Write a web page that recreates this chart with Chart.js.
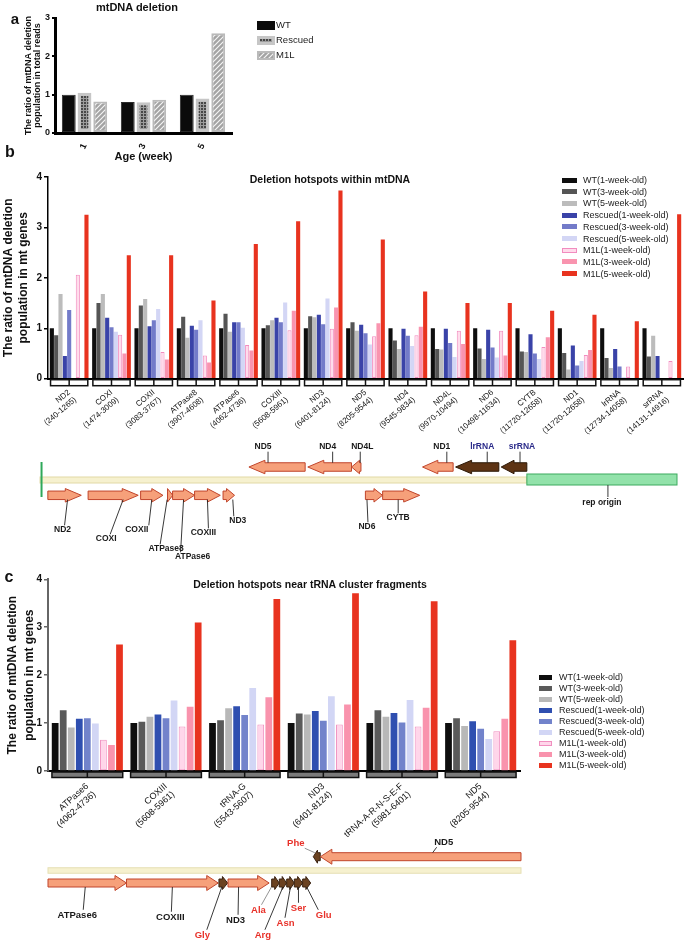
<!DOCTYPE html>
<html>
<head>
<meta charset="utf-8">
<title>mtDNA deletion hotspots</title>
<script src="https://cdn.jsdelivr.net/npm/chart.js@4.4.1/dist/chart.umd.min.js"></script>
<style>
html,body{margin:0;padding:0;background:#fff;}
body{position:relative;width:685px;height:940px;overflow:hidden;font-family:"Liberation Sans",Arial,Helvetica,sans-serif;color:#111;}
canvas{position:absolute;left:0;}
.lbl{position:absolute;white-space:nowrap;font-weight:bold;transform:translate(-50%,-50%);z-index:5;line-height:1;}
.leg{position:absolute;white-space:nowrap;font-size:9px;color:#222;z-index:5;line-height:1;}
.leg i{position:absolute;display:block;box-sizing:border-box;}
.leg span{position:absolute;transform:translateY(-50%);}
</style>
</head>
<body>
<canvas id="chartA" width="250" height="170" style="top:0px;width:250px;height:170px"></canvas>
<canvas id="chartB" width="685" height="280" style="top:169px;width:685px;height:280px"></canvas>
<canvas id="mapB" width="685" height="125" style="top:440px;width:685px;height:125px"></canvas>
<canvas id="chartC" width="685" height="275" style="top:570px;width:685px;height:275px"></canvas>
<canvas id="mapC" width="685" height="110" style="top:830px;width:685px;height:110px"></canvas>

<div class="lbl" style="left:15px;top:18px;font-size:15px">a</div>
<div class="lbl" style="left:137px;top:7px;font-size:11px">mtDNA deletion</div>
<div class="lbl" style="left:10px;top:152px;font-size:16px">b</div>
<div class="lbl" style="left:330px;top:179px;font-size:10.5px">Deletion hotspots within mtDNA</div>
<div class="lbl" style="left:9px;top:577px;font-size:16px">c</div>
<div class="lbl" style="left:310px;top:584px;font-size:10.5px">Deletion hotspots near tRNA cluster fragments</div>

<div id="legA"></div>
<div id="legB"></div>
<div id="legC"></div>

<script>
// ---------------- DATA ----------------
// Panel a
const ageWeeks = ['1', '3', '5'];
const aSeriesNames = ['WT', 'Rescued', 'M1L'];
const aWT = [1.00, 0.81, 1.00];
const aRescued = [1.05, 0.80, 0.90];
const aM1L = [0.82, 0.87, 2.60];
const aTicks = [0, 1, 2, 3];

// Series for panels b and c
const weekSeries = ['WT(1-week-old)', 'WT(3-week-old)', 'WT(5-week-old)',
  'Rescued(1-week-old)', 'Rescued(3-week-old)', 'Rescued(5-week-old)',
  'M1L(1-week-old)', 'M1L(3-week-old)', 'M1L(5-week-old)'];

// Panel b
const bGenes = ['ND2', 'COXI', 'COXII', 'ATPase8', 'ATPase6', 'COXIII', 'ND3', 'ND5', 'ND4', 'ND4L', 'ND6', 'CYTB', 'ND1', 'lrRNA', 'srRNA'];
const bRanges = ['(240-1265)', '(1474-3009)', '(3083-3767)', '(3907-4608)', '(4062-4736)', '(5608-5961)', '(6401-8124)', '(8205-9544)', '(9545-9834)', '(9970-10494)', '(10498-11634)', '(11720-12658)', '(11720-12658)', '(12734-14058)', '(14131-14916)'];
const bWT1 = [1.00, 1.00, 1.00, 1.00, 1.00, 1.00, 1.00, 1.00, 1.00, 1.00, 1.00, 1.00, 1.00, 1.00, 1.00];
const bWT3 = [0.86, 1.50, 1.45, 1.23, 1.29, 1.06, 1.24, 1.12, 0.76, 0.59, 0.60, 0.54, 0.51, 0.41, 0.44];
const bWT5 = [1.68, 1.68, 1.58, 0.81, 0.93, 1.16, 1.22, 0.95, 0.59, 0.58, 0.39, 0.53, 0.18, 0.21, 0.85];
const bRes1 = [0.45, 1.21, 1.04, 1.05, 1.12, 1.21, 1.27, 1.07, 0.99, 0.99, 0.97, 0.88, 0.66, 0.59, 0.45];
const bRes3 = [1.36, 1.02, 1.16, 0.97, 1.12, 1.12, 1.08, 0.90, 0.85, 0.71, 0.62, 0.50, 0.26, 0.24, 0.00];
const bRes5 = [0.00, 0.93, 1.38, 1.16, 1.01, 1.51, 1.59, 0.68, 0.65, 0.43, 0.42, 0.39, 0.35, 0.03, 0.00];
const bM1L1 = [2.06, 0.87, 0.53, 0.46, 0.67, 0.96, 0.99, 0.84, 0.86, 0.95, 0.95, 0.63, 0.47, 0.24, 0.35];
const bM1L3 = [0.00, 0.50, 0.38, 0.32, 0.56, 1.35, 1.41, 1.10, 1.03, 0.69, 0.46, 0.82, 0.57, 0.00, 0.00];
const bM1L5 = [3.25, 2.45, 2.45, 1.55, 2.67, 3.12, 3.73, 2.76, 1.73, 1.50, 1.50, 1.35, 1.27, 1.14, 3.26];
const bTicks = [0, 1, 2, 3, 4];

// Panel c
const cFragments = ['ATPase6', 'COXIII', 'tRNA-G', 'ND3', 'tRNA-A-R-N-S-E-F', 'ND5'];
const cRanges = ['(4062-4736)', '(5608-5961)', '(5543-5607)', '(6401-8124)', '(5981-6401)', '(8205-9544)'];
const cWT1 = [1.00, 1.00, 1.00, 1.00, 1.00, 1.00];
const cWT3 = [1.27, 1.03, 1.06, 1.20, 1.27, 1.10];
const cWT5 = [0.91, 1.13, 1.31, 1.18, 1.13, 0.94];
const cRes1 = [1.09, 1.18, 1.35, 1.25, 1.21, 1.04];
const cRes3 = [1.10, 1.10, 1.17, 1.05, 1.01, 0.88];
const cRes5 = [0.99, 1.47, 1.73, 1.56, 1.48, 0.67];
const cM1L1 = [0.65, 0.93, 0.97, 0.97, 0.93, 0.83];
const cM1L3 = [0.54, 1.34, 1.54, 1.39, 1.32, 1.09];
const cM1L5 = [2.64, 3.10, 3.59, 3.71, 3.54, 2.73];
const cTicks = [0, 1, 2, 3, 4];

// Gene map (panel b), mtDNA coordinates (bp)
const mapGenes  = ['ND2', 'COXI', 'COXII', 'ATPase8', 'ATPase6', 'COXIII', 'ND3', 'ND5', 'ND4', 'ND4L', 'ND6', 'CYTB', 'ND1', 'lrRNA', 'srRNA'];
const mapStart  = [240, 1474, 3083, 3907, 4062, 4736, 5608, 6401, 8205, 9545, 9970, 10498, 11720, 12734, 14131];
const mapEnd    = [1265, 3009, 3767, 4068, 4736, 5524, 5961, 8124, 9544, 9834, 10494, 11634, 12658, 14058, 14916];
const mapStrand = [1, 1, 1, 1, 1, 1, 1, -1, -1, -1, 1, 1, -1, -1, -1];
const mapKind   = ['p', 'p', 'p', 'p', 'p', 'p', 'p', 'p', 'p', 'p', 'p', 'p', 'p', 'r', 'r'];
const mapGenomeLength = 19517;
const mapCodingRegion = [1, 14916];
const mapRepOrigin = [14917, 19517];

// Gene map (panel c), fragment around the tRNA cluster (bp)
const frGenes  = ['ATPase6', 'COXIII', 'Gly', 'ND3', 'Ala', 'Arg', 'Asn', 'Ser', 'Glu', 'Phe', 'ND5'];
const frStart  = [4062, 4736, 5530, 5608, 5983, 6048, 6112, 6177, 6249, 6340, 6401];
const frEnd    = [4736, 5524, 5605, 5961, 6048, 6111, 6177, 6249, 6318, 6400, 8124];
const frStrand = [1, 1, 1, 1, 1, 1, 1, 1, 1, -1, -1];
const frKind   = ['p', 'p', 't', 'p', 't', 't', 't', 't', 't', 't', 'p'];
const frRange  = [4062, 8124];

// ---------------- STYLES / LAYOUT ----------------
Chart.defaults.font.family = '"Liberation Sans", Arial, Helvetica, sans-serif';
Chart.defaults.color = '#111';

function tile(w, h, draw) {
  const c = document.createElement('canvas'); c.width = w; c.height = h;
  const g = c.getContext('2d'); draw(g, w, h); return c;
}
const dotTile = tile(3, 3, g => { g.fillStyle = '#9c9c9c'; g.fillRect(0, 0, 3, 3); g.fillStyle = '#474747'; g.fillRect(0, 0, 2, 2); });
const hatchTile = tile(5, 5, g => {
  g.fillStyle = '#a3a3a3'; g.fillRect(0, 0, 5, 5);
  g.strokeStyle = '#f4f4f4'; g.lineWidth = 1.2; g.beginPath();
  g.moveTo(0, 5); g.lineTo(5, 0); g.moveTo(-1, 1); g.lineTo(1, -1); g.moveTo(4, 6); g.lineTo(6, 4); g.stroke();
});
const ctxTmp = document.createElement('canvas').getContext('2d');
const dotPattern = ctxTmp.createPattern(dotTile, 'repeat');
const hatchPattern = ctxTmp.createPattern(hatchTile, 'repeat');

const aStyles = [
  {bg: '#0b0b0b', bd: '#2a2a2a', bw: 1, css: 'background:#0b0b0b'},
  {bg: dotPattern, bd: '#c6c6c6', bw: 3, css: 'background:url(' + dotTile.toDataURL() + ');border:3px solid #c6c6c6'},
  {bg: hatchPattern, bd: '#bababa', bw: 2, css: 'background:url(' + hatchTile.toDataURL() + ');border:2px solid #bababa'}
];
const bStyles = [
  {bg: '#0e0e0e', bd: '#0e0e0e', bw: 0},
  {bg: '#555555', bd: '#555555', bw: 0},
  {bg: '#bcbcbc', bd: '#bcbcbc', bw: 0},
  {bg: '#3a43a8', bd: '#3a43a8', bw: 0},
  {bg: '#737bc9', bd: '#737bc9', bw: 0},
  {bg: '#d3d6f5', bd: '#d3d6f5', bw: 0},
  {bg: '#ffdbeb', bd: '#f28cbf', bw: 1},
  {bg: '#f994af', bd: '#f994af', bw: 0},
  {bg: '#e8331f', bd: '#e8331f', bw: 0}
];
const cStyles = [
  {bg: '#0e0e0e', bd: '#0e0e0e', bw: 0},
  {bg: '#5a5a5a', bd: '#5a5a5a', bw: 0},
  {bg: '#b8b8b8', bd: '#b8b8b8', bw: 0},
  {bg: '#2f4fb0', bd: '#2f4fb0', bw: 0},
  {bg: '#7283cb', bd: '#7283cb', bw: 0},
  {bg: '#d2d6f5', bd: '#d2d6f5', bw: 0},
  {bg: '#ffd6ea', bd: '#f08fbf', bw: 1},
  {bg: '#f993ad', bd: '#f993ad', bw: 0},
  {bg: '#e8331f', bd: '#e8331f', bw: 0}
];

function legend(id, names, styles, L) {
  const host = document.getElementById(id);
  names.forEach((n, i) => {
    const y = L.y0 + i * L.dy;
    const st = styles[i];
    const css = st.css || ('background:' + st.bg + (st.bw ? ';border:1px solid ' + st.bd : ''));
    const row = document.createElement('div');
    row.className = 'leg';
    row.style.left = L.x + 'px'; row.style.top = y + 'px'; row.style.fontSize = L.fs + 'px';
    row.innerHTML = '<i style="left:0;top:' + (-L.bh / 2) + 'px;width:' + L.bw + 'px;height:' + L.bh + 'px;' + css + '"></i>' +
      '<span style="left:' + L.tx + 'px;top:0">' + n + '</span>';
    host.appendChild(row);
  });
}
legend('legA', aSeriesNames, aStyles, {x: 257, y0: 25, dy: 15, bw: 18, bh: 9, tx: 19, fs: 9.5});
legend('legB', weekSeries, bStyles, {x: 562, y0: 180, dy: 11.7, bw: 15, bh: 5, tx: 21, fs: 9});
legend('legC', weekSeries, cStyles, {x: 539, y0: 677, dy: 11, bw: 13, bh: 5, tx: 20, fs: 9});

// Group bracket boxes under the categories
const groupBox = {
  id: 'groupBox',
  afterDraw(chart, args, o) {
    if (!o || !o.show) return;
    const xs = chart.scales.x, ys = chart.scales.y, ctx = chart.ctx;
    const n = chart.data.labels.length;
    const w = (xs.right - xs.left) / n * o.pct;
    const y0 = ys.getPixelForValue(0) + o.gap;
    ctx.save();
    ctx.lineWidth = o.lw; ctx.strokeStyle = o.stroke; ctx.fillStyle = o.fill;
    for (let i = 0; i < n; i++) {
      const cx = xs.getPixelForValue(i);
      ctx.fillRect(cx - w / 2, y0, w, o.h);
      ctx.strokeRect(cx - w / 2, y0, w, o.h);
      ctx.beginPath(); ctx.moveTo(cx, y0); ctx.lineTo(cx, y0 + o.h); ctx.stroke();
    }
    ctx.restore();
  }
};

function ds(names, arrays, styles) {
  return arrays.map((d, i) => ({
    label: names[i], data: d,
    backgroundColor: styles[i].bg, borderColor: styles[i].bd, borderWidth: styles[i].bw,
    borderSkipped: false
  }));
}

// ---------------- PANEL A ----------------
new Chart(document.getElementById('chartA'), {
  type: 'bar',
  data: {labels: ageWeeks, datasets: ds(aSeriesNames, [aWT, aRescued, aM1L], aStyles)},
  options: {
    responsive: false, animation: false, devicePixelRatio: 1,
    layout: {padding: {left: 0, right: 18, top: 18, bottom: 0}},
    datasets: {bar: {categoryPercentage: 0.8, barPercentage: 0.88}},
    plugins: {legend: {display: false}, tooltip: {enabled: false}},
    scales: {
      x: {
        grid: {display: false}, border: {display: true, color: '#000', width: 3},
        ticks: {font: {size: 9, weight: 'bold'}, color: '#111', minRotation: 65, maxRotation: 65, padding: 1},
        title: {display: true, text: 'Age (week)', font: {size: 11, weight: 'bold'}, color: '#111', padding: {top: 0, bottom: 6}},
        afterFit(s) { s.height = 37; }
      },
      y: {
        min: 0, max: 3,
        afterBuildTicks(s) { s.ticks = aTicks.map(v => ({value: v})); },
        ticks: {font: {size: 9, weight: 'bold'}, color: '#111', padding: 2},
        grid: {display: true, drawOnChartArea: false, drawTicks: true, tickLength: 3, color: '#000', lineWidth: 2},
        border: {display: true, color: '#000', width: 3},
        title: {display: true, text: ['The ratio of mtDNA deletion', 'population in total reads'], font: {size: 9, weight: 'bold', lineHeight: 1.0}, color: '#111', padding: {top: 24.5, bottom: 0}},
        afterFit(s) { s.width = 55; }
      }
    }
  }
});

// ---------------- PANEL B ----------------
new Chart(document.getElementById('chartB'), {
  type: 'bar',
  data: {
    labels: bGenes.map((g, i) => [g, bRanges[i]]),
    datasets: ds(weekSeries, [bWT1, bWT3, bWT5, bRes1, bRes3, bRes5, bM1L1, bM1L3, bM1L5], bStyles)
  },
  options: {
    responsive: false, animation: false, devicePixelRatio: 1,
    layout: {padding: {left: 0, right: 2, top: 6, bottom: 0}},
    datasets: {bar: {categoryPercentage: 0.92, barPercentage: 0.95}},
    plugins: {legend: {display: false}, tooltip: {enabled: false},
      groupBox: {show: true, pct: 0.88, gap: 1, h: 6, lw: 1.5, stroke: '#111', fill: '#fff'}},
    scales: {
      x: {
        grid: {display: false}, border: {display: true, color: '#000', width: 2},
        ticks: {font: {size: 8}, color: '#111', minRotation: 40, maxRotation: 40, autoSkip: false, padding: 1},
        afterFit(s) { s.height = 70.3; }
      },
      y: {
        min: 0, max: 4,
        afterBuildTicks(s) { s.ticks = bTicks.map(v => ({value: v})); },
        ticks: {font: {size: 10, weight: 'bold'}, color: '#111', padding: 2},
        grid: {display: true, drawOnChartArea: false, drawTicks: true, tickLength: 4, color: '#000', lineWidth: 1.5},
        border: {display: true, color: '#000', width: 1.5},
        title: {display: true, text: ['The ratio of mtDNA deletion', 'population in mt genes'], font: {size: 12, weight: 'bold', lineHeight: 1.25}, color: '#111', padding: {top: 1.5, bottom: 0}},
        afterFit(s) { s.width = 48; }
      }
    }
  },
  plugins: [groupBox]
});

// ---------------- PANEL C ----------------
new Chart(document.getElementById('chartC'), {
  type: 'bar',
  data: {
    labels: cFragments.map((g, i) => [g, cRanges[i]]),
    datasets: ds(weekSeries, [cWT1, cWT3, cWT5, cRes1, cRes3, cRes5, cM1L1, cM1L3, cM1L5], cStyles)
  },
  options: {
    responsive: false, animation: false, devicePixelRatio: 1,
    layout: {padding: {left: 0, right: 165, top: 9.3, bottom: 0}},
    datasets: {bar: {categoryPercentage: 0.92, barPercentage: 0.84}},
    plugins: {legend: {display: false}, tooltip: {enabled: false},
      groupBox: {show: true, pct: 0.9, gap: 1, h: 5.5, lw: 1.5, stroke: '#111', fill: '#7a7a7a'}},
    scales: {
      x: {
        grid: {display: false}, border: {display: true, color: '#000', width: 2},
        ticks: {font: {size: 9}, color: '#111', minRotation: 42, maxRotation: 42, autoSkip: false, padding: 2},
        afterFit(s) { s.height = 74; }
      },
      y: {
        min: 0, max: 4,
        afterBuildTicks(s) { s.ticks = cTicks.map(v => ({value: v})); },
        ticks: {font: {size: 10, weight: 'bold'}, color: '#111', padding: 2},
        grid: {display: true, drawOnChartArea: false, drawTicks: true, tickLength: 4, color: '#666', lineWidth: 1.5},
        border: {display: true, color: '#666', width: 2},
        title: {display: true, text: ['The ratio of mtDNA deletion', 'population in mt genes'], font: {size: 12, weight: 'bold', lineHeight: 1.4}, color: '#111', padding: {top: 4.6, bottom: 0}},
        afterFit(s) { s.width = 48; }
      }
    }
  },
  plugins: [groupBox]
});

// ---------------- GENE MAPS ----------------
function drawArrow(ctx, xa, xb, cy, dir, bodyH, headH, headL, fill, stroke) {
  const hl = Math.min(xb - xa, headL);
  ctx.beginPath();
  if (dir > 0) {
    const hx = xb - hl;
    ctx.moveTo(xa, cy - bodyH / 2); ctx.lineTo(hx, cy - bodyH / 2); ctx.lineTo(hx, cy - headH / 2);
    ctx.lineTo(xb, cy); ctx.lineTo(hx, cy + headH / 2); ctx.lineTo(hx, cy + bodyH / 2); ctx.lineTo(xa, cy + bodyH / 2);
  } else {
    const hx = xa + hl;
    ctx.moveTo(xb, cy - bodyH / 2); ctx.lineTo(hx, cy - bodyH / 2); ctx.lineTo(hx, cy - headH / 2);
    ctx.lineTo(xa, cy); ctx.lineTo(hx, cy + headH / 2); ctx.lineTo(hx, cy + bodyH / 2); ctx.lineTo(xb, cy + bodyH / 2);
  }
  ctx.closePath();
  ctx.fillStyle = fill; ctx.fill();
  ctx.lineWidth = 1; ctx.strokeStyle = stroke; ctx.stroke();
}

const geneFill = {p: '#f6a07a', r: '#5e3414', t: '#6b4220'};
const geneStroke = {p: '#c0452c', r: '#2c1806', t: '#3a2210'};

// label placement (layout only): ax = leader start offset from gene middle, ex = leader end offset, lx = label offset, ly = page y
const mapBLabels = {
  ND2: {ax: 3, ex: 0, lx: -2, ly: 530}, COXI: {ax: 10, ex: -3, lx: -7, ly: 539}, COXII: {ax: 0, ex: -3, lx: -15, ly: 530},
  ATPase8: {ax: -3, ex: -10, lx: -4, ly: 549}, ATPase6: {ax: 0, ex: -3, lx: 9, ly: 557}, COXIII: {ax: 0, ex: 1, lx: -4, ly: 533},
  ND3: {ax: 4, ex: 5, lx: 9, ly: 521}, ND5: {ax: -9, ex: -9, lx: -14, ly: 447}, ND4: {ax: 3, ex: 3, lx: -2, ly: 447},
  ND4L: {ax: 4, ex: 4, lx: 6, ly: 447}, ND6: {ax: -7, ex: -6, lx: -7, ly: 527}, CYTB: {ax: -3, ex: -3, lx: -3, ly: 518},
  ND1: {ax: 9, ex: 9, lx: 4, ly: 447}, lrRNA: {ax: 10, ex: 10, lx: 5, ly: 447}, srRNA: {ax: 6, ex: 6, lx: 8, ly: 447}
};
const mapCLabels = {
  ATPase6: {ax: -2, ex: -4, lx: -10, ly: 915}, COXIII: {ax: 0, ex: -1, lx: -2, ly: 917}, ND3: {ax: -10, ex: -10.5, lx: -13, ly: 920},
  Gly: {ax: -1.5, ex: -16.5, lx: -21, ly: 935}, Ala: {ax: -4, ex: -14, lx: -17, ly: 910, gray: true}, Arg: {ax: 0, ex: -18, lx: -20, ly: 935},
  Asn: {ax: 0, ex: -5.5, lx: -5, ly: 923}, Ser: {ax: 0, ex: 0, lx: 0, ly: 908}, Glu: {ax: 0, ex: 11.6, lx: 17, ly: 915},
  Phe: {ax: -2, ex: -12, lx: -21, ly: 843, gray: true}, ND5: {ax: 12, ex: 16, lx: 23, ly: 842}
};

function mapChart(id, top, height, xmin, xmax, padL, padR, plugin) {
  return new Chart(document.getElementById(id), {
    type: 'scatter',
    data: {datasets: [{data: []}]},
    options: {
      responsive: false, animation: false, devicePixelRatio: 1,
      layout: {padding: {left: padL, right: padR, top: 0, bottom: 0}},
      plugins: {legend: {display: false}, tooltip: {enabled: false}},
      scales: {
        x: {type: 'linear', min: xmin, max: xmax, display: false},
        y: {type: 'linear', min: top, max: top + height, reverse: true, display: false}
      }
    },
    plugins: [plugin]
  });
}

function drawGenes(ctx, X, Y, names, starts, ends, strands, kinds, labels, S) {
  names.forEach((n, i) => {
    const xa = X(starts[i]), xb = X(ends[i]);
    const len = xb - xa;
    const cy = strands[i] > 0 ? Y(S.botY) : Y(S.topY);
    let hl;
    if (kinds[i] === 't') hl = len * 0.6;
    else hl = Math.min(S.headMax, Math.max(len * 0.5, Math.min(len, 8)));
    const headH = kinds[i] === 't' ? S.tHeadH : S.headH;
    drawArrow(ctx, xa, xb, cy, strands[i], S.bodyH, headH, hl, geneFill[kinds[i]], geneStroke[kinds[i]]);
  });
  names.forEach((n, i) => {
    const L = labels[n]; if (!L) return;
    const mid = (X(starts[i]) + X(ends[i])) / 2;
    const bottom = strands[i] > 0;
    const cy = bottom ? Y(S.botY) : Y(S.topY);
    const y1 = bottom ? cy + S.bodyH / 2 : cy - S.bodyH / 2;
    const ly = Y(L.ly);
    const y2 = bottom ? ly - S.fs * 0.55 : ly + S.fs * 0.55;
    ctx.beginPath(); ctx.moveTo(mid + L.ax, y1); ctx.lineTo(mid + L.ex, y2);
    ctx.lineWidth = 0.9; ctx.strokeStyle = L.gray ? '#888' : '#222'; ctx.stroke();
    ctx.font = 'bold ' + S.fs + 'px "Liberation Sans", Arial, sans-serif';
    ctx.textAlign = 'center'; ctx.textBaseline = 'middle';
    ctx.fillStyle = S.labelColor(n, kinds[i]);
    ctx.fillText(n, mid + L.lx, ly);
  });
}

const mapBStyle = {lineY: 480, lineH: 6, topY: 467, botY: 495.3, bodyH: 8.5, headH: 13.5, tHeadH: 13.5, headMax: 16, fs: 8.5,
  labelColor: (n, k) => k === 'r' ? '#2b2b8a' : '#1a1a1a'};
const mapCStyle = {lineY: 870.5, lineH: 5.5, topY: 856.7, botY: 883, bodyH: 8, headH: 15, tHeadH: 13, headMax: 11.5, fs: 9.5,
  labelColor: (n, k) => k === 't' ? '#e8322a' : '#1a1a1a'};

const mapBPlugin = {
  id: 'mapB',
  afterDraw(chart) {
    const ctx = chart.ctx, xs = chart.scales.x, ys = chart.scales.y;
    const X = v => xs.getPixelForValue(v), Y = v => ys.getPixelForValue(v);
    const S = mapBStyle;
    ctx.save();
    // genome line
    ctx.fillStyle = '#f6f1cf'; ctx.strokeStyle = '#e2d9a6'; ctx.lineWidth = 1;
    const lx0 = X(mapCodingRegion[0]), lx1 = X(mapCodingRegion[1]);
    ctx.fillRect(lx0, Y(S.lineY) - S.lineH / 2, lx1 - lx0, S.lineH);
    ctx.strokeRect(lx0, Y(S.lineY) - S.lineH / 2, lx1 - lx0, S.lineH);
    // start marker
    ctx.beginPath(); ctx.moveTo(lx0 + 1.5, Y(462)); ctx.lineTo(lx0 + 1.5, Y(497));
    ctx.strokeStyle = '#2fa85a'; ctx.lineWidth = 2; ctx.stroke();
    // rep origin
    const r0 = X(mapRepOrigin[0]), r1 = X(mapRepOrigin[1]);
    ctx.fillStyle = '#92e2aa'; ctx.strokeStyle = '#3daa5e'; ctx.lineWidth = 1;
    ctx.fillRect(r0, Y(474), r1 - r0, 11); ctx.strokeRect(r0, Y(474), r1 - r0, 11);
    drawGenes(ctx, X, Y, mapGenes, mapStart, mapEnd, mapStrand, mapKind, mapBLabels, S);
    // rep origin label
    const rm = (r0 + r1) / 2;
    ctx.beginPath(); ctx.moveTo(rm + 6, Y(485)); ctx.lineTo(rm + 6, Y(497)); ctx.strokeStyle = '#222'; ctx.lineWidth = 0.9; ctx.stroke();
    ctx.font = 'bold 8.5px "Liberation Sans", Arial, sans-serif'; ctx.fillStyle = '#1a1a1a';
    ctx.textAlign = 'center'; ctx.textBaseline = 'middle';
    ctx.fillText('rep origin', rm, Y(503));
    ctx.restore();
  }
};

const mapCPlugin = {
  id: 'mapC',
  afterDraw(chart) {
    const ctx = chart.ctx, xs = chart.scales.x, ys = chart.scales.y;
    const X = v => xs.getPixelForValue(v), Y = v => ys.getPixelForValue(v);
    const S = mapCStyle;
    ctx.save();
    const lx0 = X(frRange[0]), lx1 = X(frRange[1]);
    ctx.fillStyle = '#f6f1cf'; ctx.strokeStyle = '#e6dfb4'; ctx.lineWidth = 1;
    ctx.fillRect(lx0, Y(S.lineY) - S.lineH / 2, lx1 - lx0, S.lineH);
    ctx.strokeRect(lx0, Y(S.lineY) - S.lineH / 2, lx1 - lx0, S.lineH);
    drawGenes(ctx, X, Y, frGenes, frStart, frEnd, frStrand, frKind, mapCLabels, S);
    ctx.restore();
  }
};

mapChart('mapB', 440, 125, 0, mapGenomeLength, 40, 8, mapBPlugin);
mapChart('mapC', 830, 110, frRange[0], frRange[1], 48, 164, mapCPlugin);
</script>
</body>
</html>
